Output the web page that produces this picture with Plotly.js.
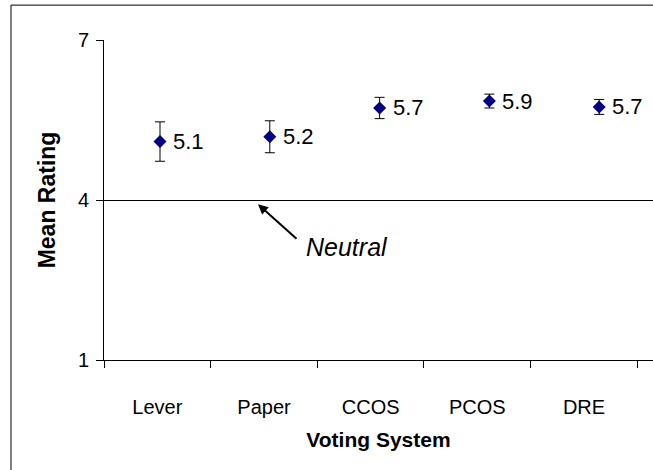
<!DOCTYPE html>
<html>
<head>
<meta charset="utf-8">
<script src="https://cdn.plot.ly/plotly-3.0.1.min.js"></script>
<style>html,body{margin:0;padding:0;background:#fff;}#chart{width:653px;height:470px;}</style>
</head>
<body>
<div id="chart"></div>
<script>
const categories = ["Lever", "Paper", "CCOS", "PCOS", "DRE"];
const meanRating = [5.1, 5.19, 5.73, 5.86, 5.75];
const errorHalf = [0.37, 0.30, 0.20, 0.13, 0.14];
const valueLabels = ["5.1", "5.2", "5.7", "5.9", "5.7"];
const yTicks = [1, 4, 7];

const FONT = "Liberation Sans, Arial, sans-serif";

// invisible trace that defines the category axis
const axisTrace = {
  type: "scatter", mode: "markers", x: categories, y: meanRating,
  xaxis: "x", yaxis: "y", marker: {opacity: 0}, hoverinfo: "skip"
};

const trace = {
  type: "scatter",
  mode: "markers",
  x: categories,
  y: meanRating,
  xaxis: "x2", yaxis: "y",
  marker: {symbol: "diamond", size: 10, color: "#000080"},
  error_y: {type: "data", array: errorHalf, visible: true, color: "#000", thickness: 1, width: 5},
  cliponaxis: false,
  hoverinfo: "skip"
};

const labelAnnotations = categories.map((c, i) => ({
  x: c, y: meanRating[i], xref: "x2", yref: "y",
  text: valueLabels[i], showarrow: false,
  xanchor: "left", yanchor: "middle", xshift: 11,
  font: {family: FONT, size: 22, color: "#000"}
}));

const layout = {
  width: 653, height: 470,
  margin: {l: 104, r: 0, t: 40, b: 110},
  paper_bgcolor: "#fff", plot_bgcolor: "#fff",
  showlegend: false,
  font: {family: FONT, color: "#000"},
  xaxis: {
    type: "category",
    range: [-0.5, 4.647],
    tickson: "boundaries",
    ticks: "outside", ticklen: 7, tickcolor: "#000", tickwidth: 1,
    showline: true, linecolor: "#000", linewidth: 1,
    showgrid: false, zeroline: false,
    tickfont: {family: FONT, size: 20, color: "#000"},
    ticklabelstandoff: 29,
    title: {text: "Voting System", font: {family: FONT, size: 21, color: "#000", weight: "bold"}, standoff: 15}
  },
  xaxis2: {
    type: "category", overlaying: "x", anchor: "y",
    range: [-0.51, 4.49], visible: false
  },
  yaxis: {
    range: [1, 7.006],
    tickvals: yTicks,
    ticktext: yTicks.map(String),
    ticks: "outside", ticklen: 7, tickcolor: "#000", tickwidth: 1,
    showline: true, linecolor: "#000", linewidth: 1,
    showgrid: true, gridcolor: "#000", gridwidth: 1,
    zeroline: false,
    tickfont: {family: FONT, size: 20, color: "#000"},
    ticklabelstandoff: 3,
    title: {text: "Mean Rating", font: {family: FONT, size: 23, color: "#000", weight: "bold"}, standoff: 15}
  },
  shapes: [{
    type: "rect", xref: "paper", yref: "paper",
    x0: -0.1694, x1: 1.5, y0: -0.8, y1: 1.109,
    line: {color: "#000", width: 1}, fillcolor: "rgba(0,0,0,0)", layer: "below"
  }],
  annotations: labelAnnotations.concat([
    {x: 0.944, y: 3.925, xref: "x", yref: "y", text: "", showarrow: true,
     ax: 40, ay: 36, arrowhead: 2, arrowsize: 1, arrowwidth: 2, arrowcolor: "#000"},
    {x: 1.78, y: 3.13, xref: "x", yref: "y", text: "Neutral", showarrow: false,
     font: {family: FONT, size: 25, color: "#000", style: "italic"}}
  ])
};

Plotly.newPlot("chart", [axisTrace, trace], layout, {staticPlot: true, displayModeBar: false});
</script>
</body>
</html>
